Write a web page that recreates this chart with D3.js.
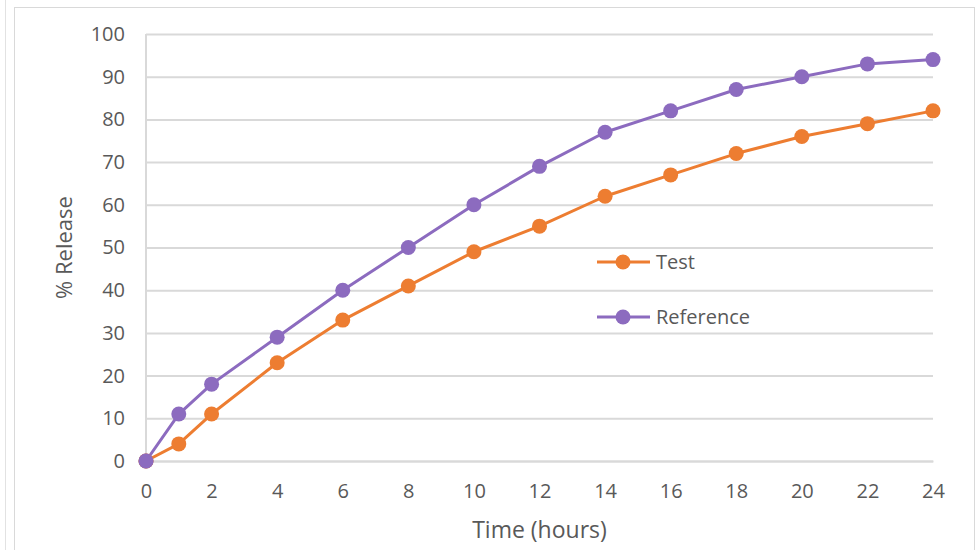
<!DOCTYPE html>
<html>
<head>
<meta charset="utf-8">
<script src="https://cdn.jsdelivr.net/npm/d3@7"></script>
<style>
  html, body { margin: 0; padding: 0; background: #fff; }
  svg { display: block; }
</style>
</head>
<body>
<svg id="chart" width="979" height="550"></svg>
<script>
const hours = [0, 1, 2, 4, 6, 8, 10, 12, 14, 16, 18, 20, 22, 24];
const testRelease = [0, 4, 11, 23, 33, 41, 49, 55, 62, 67, 72, 76, 79, 82];
const referenceRelease = [0, 11, 18, 29, 40, 50, 60, 69, 77, 82, 87, 90, 93, 94];
const xTicks = [0, 2, 4, 6, 8, 10, 12, 14, 16, 18, 20, 22, 24];
const yTicks = [0, 10, 20, 30, 40, 50, 60, 70, 80, 90, 100];
const seriesNames = ["Test", "Reference"];
const seriesColors = ["#ED7D31", "#8C6BBF"];

const svg = d3.select("#chart");
const font = "'Open Sans', 'Liberation Sans', sans-serif";
const textColor = "#595959";
const gridColor = "#d9d9d9";

// chart frame
svg.append("line").attr("x1", 5.5).attr("x2", 5.5).attr("y1", 0).attr("y2", 550)
  .attr("stroke", "#e2e2e2").attr("stroke-width", 1);
svg.append("rect").attr("x", 14.5).attr("y", 7.5).attr("width", 960).attr("height", 560)
  .attr("fill", "#fff").attr("stroke", "#d9d9d9").attr("stroke-width", 1);

const x = d3.scaleLinear().domain([0, 24]).range([146, 933]);
const y = d3.scaleLinear().domain([0, 100]).range([461, 34]);

// horizontal gridlines + y labels
const yAxis = d3.axisLeft(y).tickValues(yTicks).tickSize(-(933 - 146)).tickPadding(21);
const gy = svg.append("g").attr("transform", "translate(146,0)").call(yAxis);
gy.select(".domain").remove();
gy.selectAll(".tick line").attr("stroke", gridColor).attr("stroke-width", 2);
gy.selectAll(".tick text").attr("fill", textColor).attr("font-family", font).attr("font-size", 20);

// vertical axis line
svg.append("line").attr("x1", 146).attr("x2", 146).attr("y1", y(100)).attr("y2", y(0))
  .attr("stroke", gridColor).attr("stroke-width", 2);

// x axis
const xAxis = d3.axisBottom(x).tickValues(xTicks).tickSize(0).tickPadding(23);
const gx = svg.append("g").attr("transform", `translate(0,${y(0)})`).call(xAxis);
gx.select(".domain").attr("stroke", gridColor).attr("stroke-width", 2);
gx.selectAll(".tick text").attr("fill", textColor).attr("font-family", font).attr("font-size", 20);

// axis titles
svg.append("text").attr("x", x(12)).attr("y", 538).attr("text-anchor", "middle")
  .attr("fill", textColor).attr("font-family", font).attr("font-size", 23).text("Time (hours)");
svg.append("text").attr("transform", `translate(72,${y(50)}) rotate(-90)`).attr("text-anchor", "middle")
  .attr("fill", textColor).attr("font-family", font).attr("font-size", 22).text("% Release");

const series = [testRelease, referenceRelease];
const line = d3.line().x((d, i) => x(hours[i])).y(d => y(d));

// draw reference first so test sits on top at the origin
[1, 0].forEach(s => {
  const g = svg.append("g");
  g.append("path").datum(series[s]).attr("d", line).attr("fill", "none")
    .attr("stroke", seriesColors[s]).attr("stroke-width", 3).attr("stroke-linejoin", "round");
  g.selectAll("circle").data(series[s]).join("circle")
    .attr("cx", (d, i) => x(hours[i])).attr("cy", d => y(d)).attr("r", 7.5)
    .attr("fill", seriesColors[s]);
});
// origin point shown in purple on top
svg.append("circle").attr("cx", x(0)).attr("cy", y(0)).attr("r", 7.5).attr("fill", seriesColors[1]);

// legend
const legendY = [262, 317];
seriesNames.forEach((name, i) => {
  const g = svg.append("g").attr("transform", `translate(597,${legendY[i]})`);
  g.append("line").attr("x1", 0).attr("x2", 53).attr("y1", 0).attr("y2", 0)
    .attr("stroke", seriesColors[i]).attr("stroke-width", 3);
  g.append("circle").attr("cx", 26).attr("cy", 0).attr("r", 7.5).attr("fill", seriesColors[i]);
  g.append("text").attr("x", 59).attr("y", 0).attr("dy", "0.35em")
    .attr("fill", textColor).attr("font-family", font).attr("font-size", 20).text(name);
});
</script>
</body>
</html>
